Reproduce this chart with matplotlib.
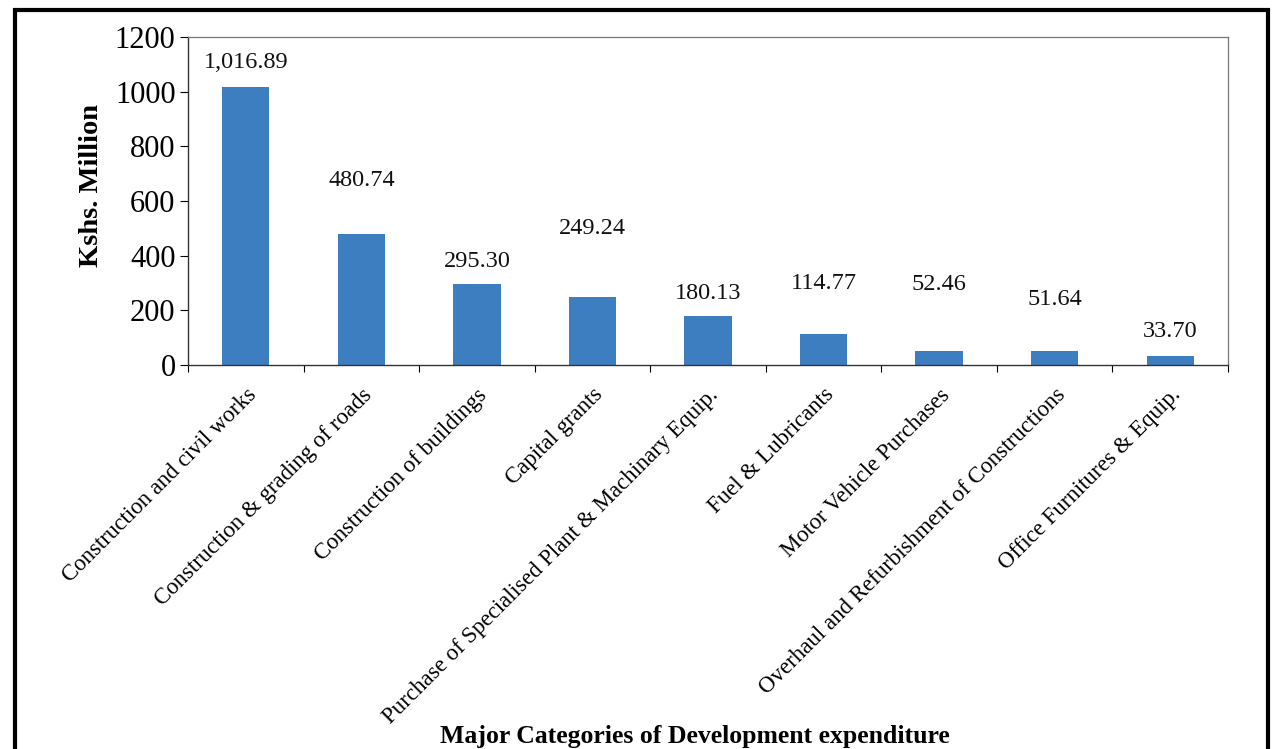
import matplotlib
matplotlib.use("Agg")
import matplotlib.pyplot as plt
from matplotlib.patches import Rectangle

categories = [
    "Construction and civil works",
    "Construction & grading of roads",
    "Construction of buildings",
    "Capital grants",
    "Purchase of Specialised Plant & Machinary Equip.",
    "Fuel & Lubricants",
    "Motor Vehicle Purchases",
    "Overhaul and Refurbishment of Constructions",
    "Office Furnitures & Equip.",
]
values = [1016.89, 480.74, 295.30, 249.24, 180.13, 114.77, 52.46, 51.64, 33.70]
value_labels = ["1,016.89", "480.74", "295.30", "249.24", "180.13",
                "114.77", "52.46", "51.64", "33.70"]
# label heights (as placed in the original chart)
label_y = [1105, 676, 377, 498, 263, 300, 296, 238, 124]

plt.rcParams['font.family'] = ['Liberation Serif', 'DejaVu Serif']

fig = plt.figure(figsize=(12.72, 7.49), dpi=100)
ax = fig.add_axes([188/1272, 1-365/749, (1228-188)/1272, (365-37)/749])

x = list(range(len(categories)))
ax.bar(x, values, width=0.41, color="#3D7EC1", zorder=2)
for xi, lab, ly in zip(x, value_labels, label_y):
    ax.text(xi, ly, lab, ha='center', va='center', fontsize=17.5, color='#111111')

ax.set_xlim(-0.5, len(categories) - 0.5)
ax.set_ylim(0, 1200)
ax.set_yticks(range(0, 1201, 200))
ax.tick_params(axis='y', labelsize=22, direction='out', length=6, pad=3)
ax.set_xticks([i - 0.5 for i in range(len(categories) + 1)])
ax.set_xticklabels([])
ax.set_xticks(x, minor=True)
ax.set_xticklabels(categories, minor=True, rotation=45, ha='right',
                   rotation_mode='anchor', fontsize=16.5)
ax.tick_params(axis='x', which='minor', length=0, pad=14)
ax.tick_params(axis='x', which='major', direction='out', length=5)

for s in ['top', 'right']:
    ax.spines[s].set_color('#777777')
    ax.spines[s].set_linewidth(0.9)
for s in ['left', 'bottom']:
    ax.spines[s].set_color('#333333')
    ax.spines[s].set_linewidth(1.0)

ax.set_ylabel("Kshs. Million", fontsize=20.5, fontweight='bold')
ax.yaxis.set_label_coords(-0.081, 0.546)
fig.text(695/1272, 1-736/749, "Major Categories of Development expenditure",
         ha='center', va='center', fontsize=18.5, fontweight='bold')

fig.patches.append(Rectangle((15/1272, -0.02), (1268-15)/1272, 1.02-10/749,
                             transform=fig.transFigure, fill=False,
                             edgecolor='black', linewidth=3))

fig.savefig("out.png", dpi=100)
